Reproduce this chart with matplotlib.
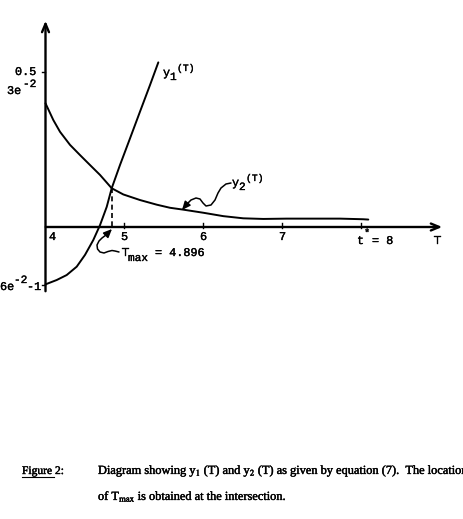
import matplotlib
matplotlib.use('Agg')
import matplotlib.pyplot as plt
from matplotlib.path import Path
from matplotlib.patches import FancyArrowPatch
import matplotlib.patheffects as pe

plt.rcParams['mathtext.fontset'] = 'custom'
plt.rcParams['mathtext.rm'] = 'Liberation Mono'
plt.rcParams['mathtext.it'] = 'Liberation Mono'

# ---- data ----
T1 = [4.00, 4.142, 4.268, 4.395, 4.500, 4.605, 4.690, 4.775, 4.838, 4.943, 5.070, 5.196, 5.323, 5.428]
Y1 = [-0.185, -0.171, -0.155, -0.128, -0.090, -0.042, 0.006, 0.065, 0.125, 0.200, 0.286, 0.372, 0.458, 0.531]

T2 = [4.0, 4.099, 4.184, 4.310, 4.437, 4.563, 4.690, 4.838, 4.985, 5.196, 5.408, 5.576,
      5.744, 5.997, 6.251, 6.504, 6.757, 7.053, 7.390, 7.728, 8.023, 8.086]
Y2 = [0.399, 0.345, 0.307, 0.265, 0.232, 0.200, 0.168, 0.125, 0.105, 0.087, 0.072, 0.062,
      0.056, 0.046, 0.035, 0.028, 0.026, 0.027, 0.027, 0.027, 0.025, 0.024]

x_ticks = [5, 6, 7, 8]
x_tick_labels = ['4', '5', '6', '7', '8']
y_tick_val = 0.5
y_top_val = 0.406      # 3e^-2
y_bot_val = -0.188     # 6e^-2 - 1
T_max_label = '4.896'
T_cross, Y_cross = 4.838, 0.125

# ---- pixel <-> data mapping ----
W, H = 463, 519
SX, SY = 79.0, 310.0
OX, OY = 45.5, 227.0

def P(x, y):
    return (4 + (x - OX) / SX, (OY - y) / SY)

fig = plt.figure(figsize=(W / 100, H / 100), dpi=100)
ax = fig.add_axes([0, 0, 1, 1])
ax.set_xlim(P(0, 0)[0], P(W, 0)[0])
ax.set_ylim(P(0, H)[1], P(0, 0)[1])
ax.axis('off')

mono = 'Liberation Mono'
k = 'black'
thick = [pe.withStroke(linewidth=0.25, foreground=k)]
fs = 8.5

def tt(x, y, s, size=fs, ha='left', va='baseline'):
    ax.text(*P(x, y), s, family=mono, fontsize=size, ha=ha, va=va, color=k, path_effects=thick)

# axes
ax.annotate('', xy=P(45.5, 18), xytext=P(45.5, 294),
            arrowprops=dict(arrowstyle='->,head_length=0.6,head_width=0.25', lw=1.7, color=k))
ax.annotate('', xy=P(445, 227), xytext=P(43, 227),
            arrowprops=dict(arrowstyle='->,head_length=0.6,head_width=0.25', lw=1.7, color=k))

# curves
ax.plot(T1, Y1, color=k, lw=1.4, solid_capstyle='round', solid_joinstyle='round')
ax.plot(T2, Y2, color=k, lw=1.4, solid_capstyle='round', solid_joinstyle='round')

# dashed T_max
ax.plot([T_cross, T_cross], [Y_cross, 0], color=k, lw=1.2, ls=(0, (3, 2)))

# ticks
dy = 4 / SY
for t in x_ticks:
    ax.plot([t, t], [-1 / SY, dy], color=k, lw=1.0)
ax.plot([P(42, 0)[0], 4], [y_tick_val, y_tick_val], color=k, lw=1.0)
ax.plot([P(42, 0)[0], 4], [y_bot_val, y_bot_val], color=k, lw=1.0)

# x tick labels
tt(49, 240, x_tick_labels[0])
for t, lab in zip(x_ticks[:3], x_tick_labels[1:4]):
    ax.text(t, P(0, 240)[1], lab, family=mono, fontsize=fs, ha='center', va='baseline',
            path_effects=thick)
tt(357, 244, 't')
tt(364, 236, '*', size=7.5)
tt(372, 244, '= ' + x_tick_labels[4])
tt(434, 244, 'T')

# y labels
tt(36, 75, '0.5', ha='right')
tt(7, 94, '3e')
tt(23, 87, '-2', size=8)
tt(0, 290, '6e')
tt(14, 283, '-2', size=8)
tt(27, 290, '-1')

# curve labels
tt(163, 76, 'y')
tt(170, 80, '1', size=8)
tt(177, 71, '(T)', size=7)
tt(232, 186, 'y')
tt(239, 190, '2', size=8)
tt(246, 181, '(T)', size=7)
tt(122, 256, 'T')
tt(128, 261, 'max', size=8)
tt(155, 256, '= ' + T_max_label)

# wavy arrows
def wavy(points):
    verts = [P(x, y) for x, y in points]
    codes = [Path.MOVETO] + [Path.LINETO] * (len(verts) - 1)
    arr = FancyArrowPatch(path=Path(verts, codes),
                          arrowstyle='-|>,head_length=0.5,head_width=0.22',
                          mutation_scale=10, lw=1.1, color=k, joinstyle='round')
    ax.add_patch(arr)

wavy([(119, 252), (115, 251), (112, 250.5), (108, 251.5), (104, 253), (100, 252), (97.5, 249),
      (97, 245), (99, 241), (102, 238), (106, 235), (109, 232), (112, 229)])
wavy([(231, 183), (226, 184), (221, 188), (218, 193), (215, 200), (211, 205), (206, 206),
      (203, 203), (200, 199), (196, 198), (191, 200), (187, 204), (182, 210)])

# caption
serif = 'Liberation Serif'
cfs = 8.9
cpe = [pe.withStroke(linewidth=0.3, foreground=k)]
fig.text(22 / W, 1 - 474 / H, 'Figure 2:', family=serif, fontsize=8.3, ha='left',
         va='baseline', path_effects=cpe)
fig.add_artist(plt.Line2D([22 / W, 54 / W], [1 - 476.5 / H, 1 - 476.5 / H], color=k, lw=0.8))
fig.text(98 / W, 1 - 474 / H,
         r'Diagram showing y$_1$ (T) and y$_2$ (T) as given by equation (7).  The location',
         family=serif, fontsize=cfs, ha='left', va='baseline', math_fontfamily='stix',
         path_effects=cpe)
fig.text(98 / W, 1 - 500 / H, r'of T$_{\mathrm{max}}$ is obtained at the intersection.',
         family=serif, fontsize=cfs, ha='left', va='baseline', math_fontfamily='stix',
         path_effects=cpe)

fig.savefig('out.png', dpi=100)
